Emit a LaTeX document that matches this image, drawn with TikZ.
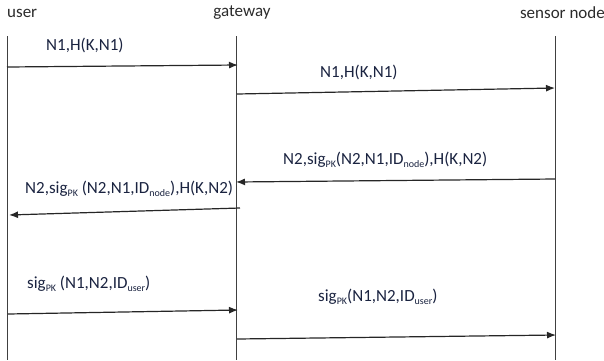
\documentclass[tikz,border=0pt]{standalone}
\usepackage{fontspec}
\setmainfont{Carlito}
\usetikzlibrary{arrows.meta}
\definecolor{txt}{HTML}{1A2340}
\definecolor{hdr}{HTML}{2B2B2B}
\newcommand{\subsc}[1]{\raisebox{-0.3ex}{\fontsize{10}{10}\selectfont #1}}
\tikzset{
  lbl/.style={font=\fontsize{17}{17}\selectfont, text=txt, inner sep=0pt},
  hd/.style={font=\fontsize{17}{17}\selectfont, text=hdr, inner sep=0pt},
  life/.style={draw=black!75, line width=0.9pt},
  msg/.style={draw=black!85, line width=1.2pt, -{Latex[length=9pt,width=7pt]}}
}
\begin{document}
\begin{tikzpicture}[x=1pt,y=-1pt]
\useasboundingbox (0,0) rectangle (604,360);
% headers
\node[hd, anchor=west] (huser) at (7,13) {user};
\node[hd] (hgw) at (242,13) {gateway};
\node[hd, anchor=east] (hsn) at (605,13) {sensor node};
% lifelines
\coordinate (ut) at (7,36);   \coordinate (ub) at (7,360);
\coordinate (gt) at (236,36); \coordinate (gb) at (236,360);
\coordinate (st) at (555,36); \coordinate (sb) at (555,360);
\draw[life] (ut) -- (ub);
\draw[life] (gt) -- (gb);
\draw[life] (st) -- (sb);
% message endpoints
\coordinate (a1) at (7,67);    \coordinate (b1) at (238,65);
\coordinate (a2) at (237,94);  \coordinate (b2) at (555,88);
\coordinate (a3) at (555,179); \coordinate (b3) at (236,182);
\coordinate (a4) at (240,208); \coordinate (b4) at (9,215);
\coordinate (a5) at (8,314);   \coordinate (b5) at (238,310);
\coordinate (a6) at (237,339); \coordinate (b6) at (556,335);
\draw[msg] (a1) -- (b1);
\draw[msg] (a2) -- (b2);
\draw[msg] (a3) -- (b3);
\draw[msg] (a4) -- (b4);
\draw[msg] (a5) -- (b5);
\draw[msg] (a6) -- (b6);
% labels
\node[lbl, anchor=west] (l1) at (46,45) {N1,H(K,N1)};
\node[lbl, anchor=west] (l2) at (320,72) {N1,H(K,N1)};
\node[lbl, anchor=west] (l3) at (283,160) {N2,sig\subsc{PK}(N2,N1,ID\subsc{node}),H(K,N2)};
\node[lbl, anchor=west] (l4) at (25,189) {N2,sig\subsc{PK} (N2,N1,ID\subsc{node}),H(K,N2)};
\node[lbl, anchor=west] (l5) at (27,284) {sig\subsc{PK} (N1,N2,ID\subsc{user})};
\node[lbl, anchor=west] (l6) at (318,297) {sig\subsc{PK}(N1,N2,ID\subsc{user})};
\end{tikzpicture}
\end{document}
